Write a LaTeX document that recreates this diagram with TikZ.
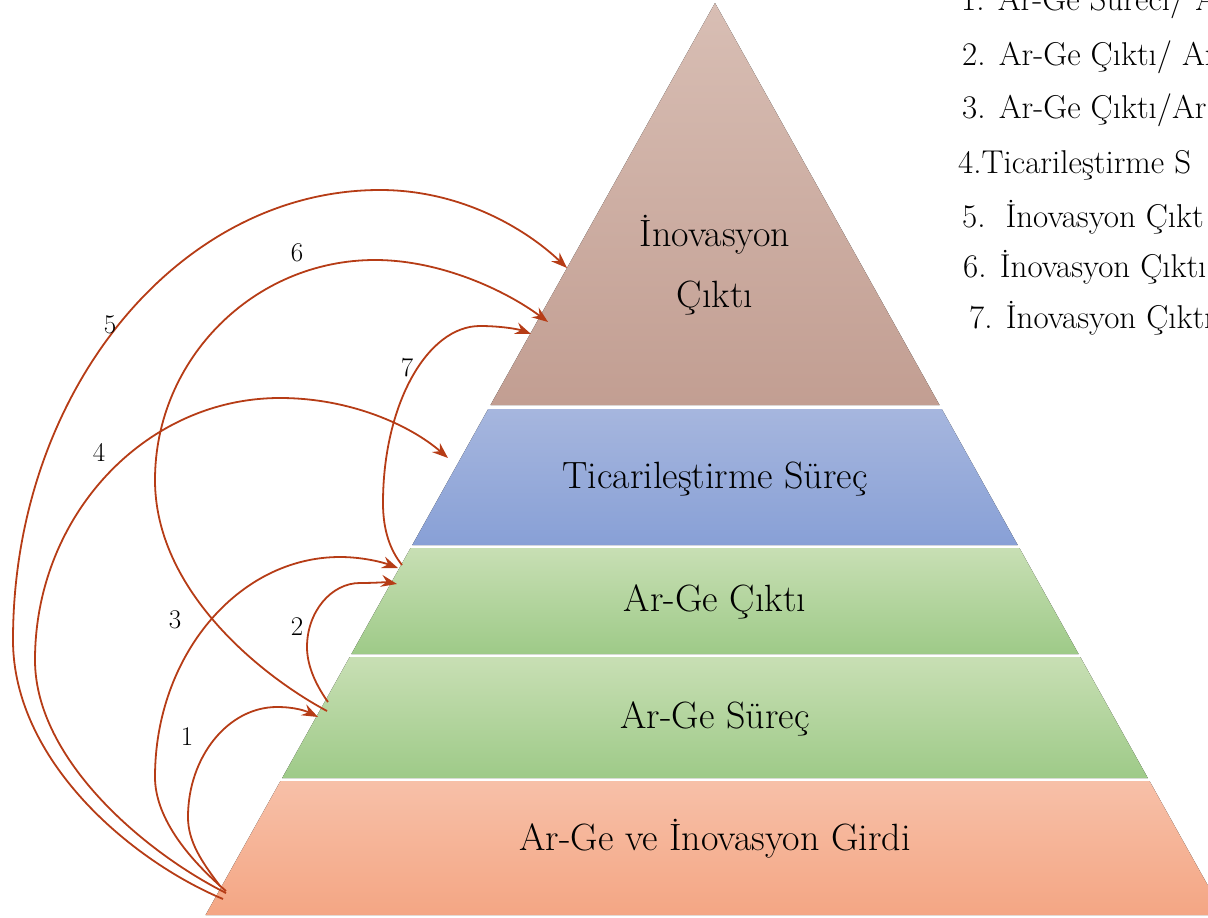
\documentclass[tikz,border=0pt]{standalone}
\usepackage{fontspec}
\usetikzlibrary{arrows.meta}
\definecolor{arrc}{RGB}{182,60,22}
\definecolor{brtop}{RGB}{216,190,180}
\definecolor{brbot}{RGB}{194,158,146}
\definecolor{bltop}{RGB}{166,182,222}
\definecolor{blbot}{RGB}{136,160,214}
\definecolor{grtop}{RGB}{200,223,180}
\definecolor{grbot}{RGB}{158,202,136}
\definecolor{ortop}{RGB}{247,192,168}
\definecolor{orbot}{RGB}{244,166,132}
\begin{document}
\begin{tikzpicture}[x=1pt,y=-1pt,
  arr/.style={draw=arrc, line width=1.8pt, -{Stealth[length=16pt,width=12pt,inset=5.5pt]}},
  lbl/.style={font=\fontsize{38}{42}\selectfont, anchor=base, inner sep=0pt},
  num/.style={font=\fontsize{27}{30}\selectfont, inner sep=0pt},
  lst/.style={font=\fontsize{33}{36}\selectfont, anchor=base west, inner sep=0pt}]
\useasboundingbox (0,0) rectangle (1208,918);
\clip (0,0) rectangle (1208,918);
% pyramid layers
\fill[top color=brtop, bottom color=brbot] (715,3) -- (939.5,405) -- (490.5,405) -- cycle;
\fill[top color=bltop, bottom color=blbot] (488.2,409) -- (941.8,409) -- (1017.7,545) -- (412.3,545) -- cycle;
\fill[top color=grtop, bottom color=grbot] (410.6,548) -- (1019.4,548) -- (1078.6,654) -- (351.4,654) -- cycle;
\fill[top color=grtop, bottom color=grbot] (349.7,657) -- (1080.3,657) -- (1147.8,778) -- (282.2,778) -- cycle;
\fill[top color=ortop, bottom color=orbot] (280.5,781) -- (1149.5,781) -- (1224.4,915) -- (205.6,915) -- cycle;
% layer texts
\node[lbl] (inv1) at (715,246) {İnovasyon};
\node[lbl] (inv2) at (715,307) {Çıktı};
\node[lbl] (tic) at (715,488) {Ticarileştirme Süreç};
\node[lbl] (agc) at (715,611) {Ar-Ge Çıktı};
\node[lbl] (ags) at (715,728) {Ar-Ge Süreç};
\node[lbl] (agi) at (715,850) {Ar-Ge ve İnovasyon Girdi};
% list
\node[lst] (l1) at (961,10) {1. Ar-Ge Süreci/ A};
\node[lst] (l2) at (962,65) {2. Ar-Ge Çıktı/ Ar};
\node[lst] (l3) at (962,118) {3. Ar-Ge Çıktı/Ar};
\node[lst] (l4) at (958,173) {4.Ticarileştirme S};
\node[lst] (l5) at (962,227) {5.\ \ İnovasyon Çıkt};
\node[lst] (l6) at (963,277) {6. İnovasyon Çıktı};
\node[lst] (l7) at (969,328) {7. İnovasyon Çıktı};
% connector end points
\coordinate (s1) at (220,886); \coordinate (e1) at (318,717);
\coordinate (s2) at (328,702); \coordinate (e2) at (397,584);
\coordinate (s3) at (226,891); \coordinate (e3) at (398,568);
\coordinate (s4) at (226,893); \coordinate (e4) at (448,458);
\coordinate (s5) at (223,899); \coordinate (e5) at (567,268);
\coordinate (s6) at (327,711); \coordinate (e6) at (548,322);
\coordinate (s7) at (402,565); \coordinate (e7) at (531,334);
% connectors
\draw[arr] (s1) .. controls (202,862) and (188,842) .. (188,817) .. controls (188,757) and (228,707) .. (277,707) .. controls (295,707) and (306,711) .. (e1);
\draw[arr] (s2) .. controls (318,688) and (307,668) .. (307,647) .. controls (307,612) and (331,583) .. (360,583) .. controls (375,583) and (387,582) .. (e2);
\draw[arr] (s3) .. controls (192,862) and (155,820) .. (155,777) .. controls (155,656) and (238,557) .. (340,557) .. controls (362,557) and (382,562) .. (e3);
\draw[arr] (s4) .. controls (146,853) and (35,760) .. (35,660) .. controls (35,516) and (145,398) .. (280,398) .. controls (350,398) and (410,425) .. (e4);
\draw[arr] (s5) .. controls (130,860) and (13,760) .. (13,640) .. controls (13,392) and (178,190) .. (380,190) .. controls (460,190) and (525,228) .. (e5);
\draw[arr] (s6) .. controls (260,675) and (155,590) .. (155,480) .. controls (155,359) and (254,260) .. (375,260) .. controls (440,260) and (505,290) .. (e6);
\draw[arr] (s7) .. controls (390,550) and (383,530) .. (383,503) .. controls (383,405) and (427,326) .. (480,326) .. controls (500,326) and (518,329) .. (e7);
% connector labels
\node[num] (n1) at (187,737) {1};
\node[num] (n2) at (297,627) {2};
\node[num] (n3) at (175,620) {3};
\node[num] (n4) at (99,452) {4};
\node[num] (n5) at (110,325) {5};
\node[num] (n6) at (297,253) {6};
\node[num] (n7) at (407,368) {7};
\end{tikzpicture}
\end{document}
